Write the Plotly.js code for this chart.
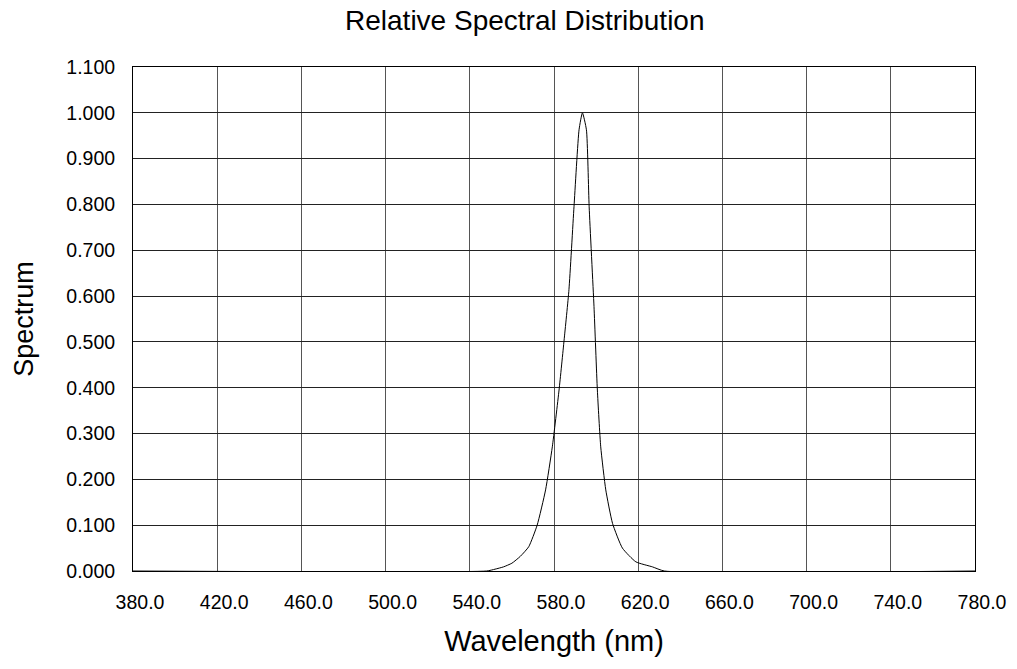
<!DOCTYPE html>
<html>
<head>
<meta charset="utf-8">
<script src="https://cdn.plot.ly/plotly-3.0.1.min.js"></script>
<style>html,body{margin:0;padding:0;background:#fff;}#chart{width:1017px;height:669px;}</style>
</head>
<body>
<div id="chart"></div>
<script>
const wavelength = [380, 548, 552, 556, 560, 564, 568, 572, 576, 579.2, 582.4, 584.8, 587.1, 589.5, 591.9, 593.5, 595.4, 596.7, 599.0, 600.6, 602.2, 604.6, 607.8, 612.5, 618.9, 626.8, 632.4, 780];
const spectrum   = [0, 0, 0.004, 0.009, 0.017, 0.032, 0.053, 0.10, 0.177, 0.271, 0.395, 0.504, 0.614, 0.795, 0.963, 1.0, 0.963, 0.795, 0.577, 0.395, 0.271, 0.177, 0.104, 0.050, 0.020, 0.009, 0, 0];
const xTicks = [380, 420, 460, 500, 540, 580, 620, 660, 700, 740, 780];
const yTicks = [0, 0.1, 0.2, 0.3, 0.4, 0.5, 0.6, 0.7, 0.8, 0.9, 1.0, 1.1];

const font = "Liberation Sans, Arial, sans-serif";
Plotly.newPlot('chart', [{
  x: wavelength, y: spectrum, type: 'scatter', mode: 'lines',
  line: {color: '#000', width: 1, shape: 'spline', smoothing: 0.5},
  hoverinfo: 'skip'
}], {
  width: 1017, height: 669,
  margin: {l: 133, r: 42, t: 67, b: 98},
  paper_bgcolor: '#fff', plot_bgcolor: '#fff',
  showlegend: false,
  font: {family: font, color: '#000'},
  title: {text: 'Relative Spectral Distribution', font: {size: 28, family: font, color: '#000'}, x: 0.516, xanchor: 'center', y: 0.97, yanchor: 'middle'},
  xaxis: {
    range: [380, 780], tickvals: xTicks, ticktext: xTicks.map(v => v.toFixed(1)),
    showgrid: true, gridcolor: '#555', gridwidth: 1,
    showline: true, linecolor: '#000', linewidth: 1, mirror: true,
    zeroline: false, ticks: '', ticklabelstandoff: 14, ticklabelshift: 7,
    tickfont: {size: 19.5, family: font, color: '#000'},
    title: {text: 'Wavelength (nm)', font: {size: 29, family: font, color: '#000'}, standoff: 18}
  },
  yaxis: {
    range: [0, 1.1], tickvals: yTicks, ticktext: yTicks.map(v => v.toFixed(3)),
    showgrid: true, gridcolor: '#222', gridwidth: 1,
    showline: true, linecolor: '#000', linewidth: 1, mirror: true,
    zeroline: false, ticks: '', ticklabelstandoff: 13,
    tickfont: {size: 19.5, family: font, color: '#000'},
    title: {text: 'Spectrum', font: {size: 27, family: font, color: '#000'}, standoff: 24}
  }
}, {staticPlot: true});
</script>
</body>
</html>
